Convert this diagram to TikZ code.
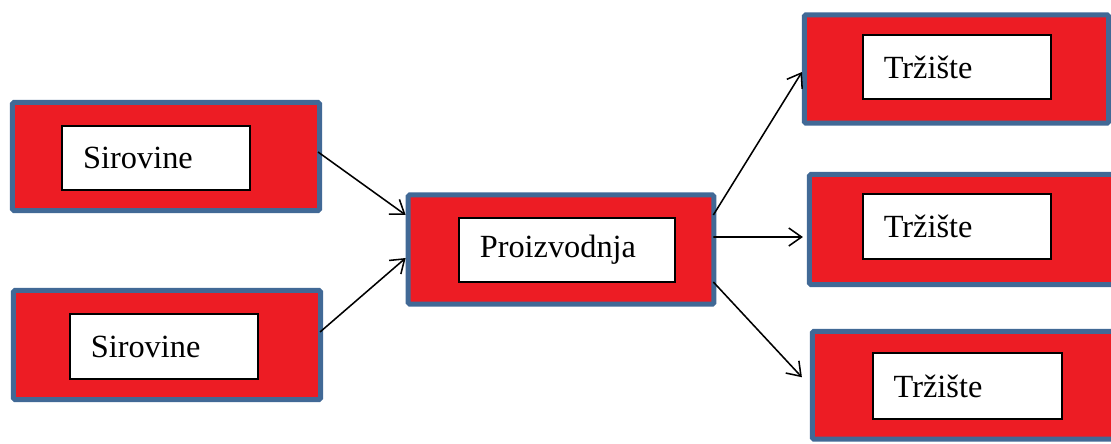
\documentclass[tikz,border=0pt]{standalone}
\usepackage{fontspec}
\setmainfont{Liberation Serif}
\usetikzlibrary{arrows.meta}
\definecolor{boxred}{RGB}{237,28,36}
\definecolor{boxblue}{RGB}{65,105,150}

\begin{document}
\begin{tikzpicture}[x=0.025cm,y=-0.025cm,
    outerbox/.style={draw=boxblue,fill=boxred,line width=0.125cm,rounded corners=1pt},
    innerbox/.style={draw=black,fill=white,line width=1.3pt,inner xsep=0.525cm,
        align=left,font=\fontsize{23}{27}\selectfont},
    arr/.style={-{Straight Barb[length=0.32cm,width=0.45cm]},line width=1.1pt}]
    \useasboundingbox (0,0) rectangle (1111,443);
    % outer boxes
    \node[outerbox,minimum width=7.675cm,minimum height=2.7cm] (s1) at (166,156.5) {};
    \node[outerbox,minimum width=7.675cm,minimum height=2.725cm] (s2) at (167,345) {};
    \node[outerbox,minimum width=7.64cm,minimum height=2.725cm] (p) at (561,249.5) {};
    \node[outerbox,minimum width=7.6cm,minimum height=2.71cm] (t1) at (956.5,69) {};
    \node[outerbox,minimum width=7.64cm,minimum height=2.75cm] (t2) at (962.25,229.5) {};
    \node[outerbox,minimum width=7.64cm,minimum height=2.69cm] (t3) at (965.25,385.25) {};
    % inner boxes
    \node[innerbox,text width=3.64cm,minimum height=1.59cm] (s1i) at (156,158) {Sirovine};
    \node[innerbox,text width=3.66cm,minimum height=1.64cm] (s2i) at (164,346.5) {Sirovine};
    \node[innerbox,text width=4.36cm,minimum height=1.61cm] (pi) at (567,250) {Proizvodnja};
    \node[innerbox,text width=3.66cm,minimum height=1.61cm] (t1i) at (957,67) {Tržište};
    \node[innerbox,text width=3.66cm,minimum height=1.64cm] (t2i) at (957,226.5) {Tržište};
    \node[innerbox,text width=3.69cm,minimum height=1.64cm] (t3i) at (967.5,386) {Tržište};
    % arrows
    \draw[arr] ([xshift=-0.1cm,yshift=0.1125cm]s1.east) -- ([yshift=0.8625cm]p.west);
    \draw[arr] ([xshift=-0.075cm,yshift=0.325cm]s2.east) -- ([yshift=-0.2125cm]p.west);
    \draw[arr] ([xshift=-0.075cm,yshift=0.8625cm]p.east) -- ([yshift=-0.075cm]t1.west);
    \draw[arr] ([xshift=-0.075cm,yshift=0.3125cm]p.east) -- ([xshift=-0.1cm,yshift=-0.1875cm]t2.west);
    \draw[arr] ([xshift=-0.075cm,yshift=-0.8125cm]p.east) -- ([xshift=-0.2cm,yshift=0.2cm]t3.west);
\end{tikzpicture}
\end{document}
